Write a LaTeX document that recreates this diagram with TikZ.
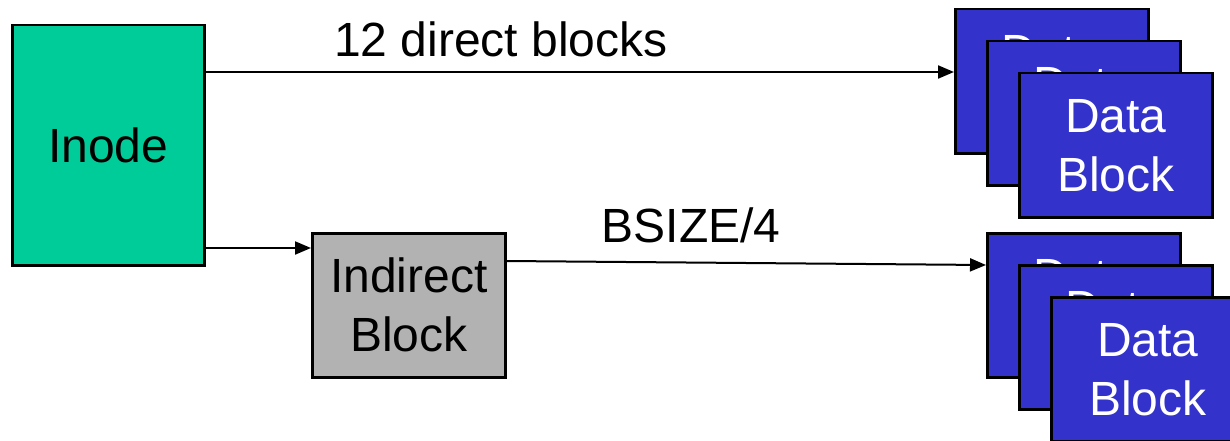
\documentclass[tikz,border=0pt]{standalone}
\usepackage{fontspec}
\setmainfont{Liberation Sans}
\usetikzlibrary{arrows.meta}
\definecolor{inodegreen}{HTML}{00CC99}
\definecolor{indgray}{HTML}{B2B2B2}
\definecolor{datablue}{HTML}{3333CC}
\begin{document}
\begin{tikzpicture}[x=1pt,y=-1pt,
  bigtext/.style={font=\fontsize{48}{59}\selectfont},
  boxbase/.style={draw=black, line width=2.5pt, inner sep=0pt, align=center, bigtext,
    minimum width=193pt, minimum height=144pt, anchor=north west},
  inodebox/.style={boxbase, fill=inodegreen, minimum width=192pt, minimum height=240pt},
  indbox/.style={boxbase, fill=indgray},
  databox/.style={boxbase, fill=datablue, text=white},
  arr/.style={draw=black, line width=2pt, -{Triangle[length=16pt,width=13pt]}},
  lbl/.style={bigtext, inner sep=0pt, anchor=base}
]
\useasboundingbox (0,0) rectangle (1230,441);
\fill[white] (0,0) rectangle (1230,441);

\node[inodebox] (inode) at (11,24) {Inode};
\node[indbox] (ind) at (311,232) {Indirect\\Block};

\node[databox] (ta) at (954,8) {Data\\Block};
\node[databox] (tb) at (986,40) {Data\\Block};
\node[databox] (tc) at (1018,72) {Data\\Block};

\node[databox] (ba) at (986,232) {Data\\Block};
\node[databox] (bb) at (1018,264) {Data\\Block};
\node[databox] (bc) at (1050,296) {Data\\Block};

\draw[arr] ([yshift=-48pt]inode.north east) -- ([yshift=-48pt]inode.north east -| ta.west);
\draw[arr] ([yshift=-16pt]ind.north west -| inode.east) -- ([yshift=-16pt]ind.north west);
\draw[arr] ([yshift=-29pt]ind.north east) -- ([yshift=-33pt]ba.north west);

\node[lbl] (l1) at (501,57) {12 direct blocks};
\node[lbl] (l2) at (691,242) {BSIZE/4};
\end{tikzpicture}
\end{document}
